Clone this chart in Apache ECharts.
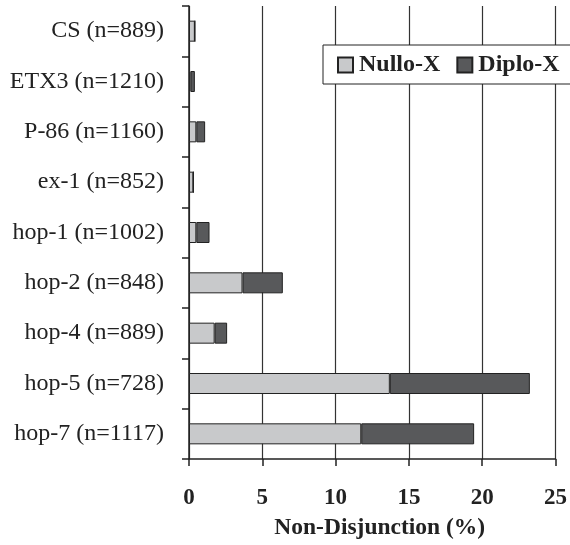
<!DOCTYPE html>
<html><head><meta charset="utf-8">
<script src="https://cdn.jsdelivr.net/npm/echarts@6/dist/echarts.min.js"></script>
<style>html,body{margin:0;padding:0;background:#fff}#c{width:570px;height:545px}</style>
</head><body><div id="c"></div>
<script>
const categories = ['CS (n=889)','ETX3 (n=1210)','P-86 (n=1160)','ex-1 (n=852)','hop-1 (n=1002)','hop-2 (n=848)','hop-4 (n=889)','hop-5 (n=728)','hop-7 (n=1117)'];
const nulloX = [0.4, 0.1, 0.5, 0.3, 0.5, 3.65, 1.75, 13.7, 11.75];
const diploX = [0, 0.3, 0.6, 0, 0.9, 2.75, 0.85, 9.55, 7.7];
const xTicks = [0, 5, 10, 15, 20, 25];

const font = 'Liberation Serif';
const chart = echarts.init(document.getElementById('c'));
chart.setOption({
  animation: false,
  textStyle: {fontFamily: font, color: '#222'},
  grid: {left: 189, right: 13, top: 6, bottom: 82, containLabel: false},
  legend: {
    left: 323, top: 45, width: 250, orient: 'horizontal',
    padding: [8, 20, 7, 14],
    itemWidth: 15, itemHeight: 15, itemGap: 16,
    borderColor: '#222', borderWidth: 1, backgroundColor: '#fff',
    textStyle: {fontFamily: font, fontWeight: 'bold', fontSize: 24, color: '#222', padding: [0,0,0,1]},
    icon: 'rect',
    data: ['Nullo-X', 'Diplo-X']
  },
  xAxis: {
    type: 'value', min: xTicks[0], max: xTicks[xTicks.length-1], interval: 5,
    name: 'Non-Disjunction (%)', nameLocation: 'middle', nameGap: 57,
    nameTextStyle: {fontFamily: font, fontWeight: 'bold', fontSize: 23.5, color: '#222', padding: [0,0,0,15]},
    axisLine: {show: true, lineStyle: {color: '#222', width: 1.5}},
    axisTick: {show: true, length: 7, lineStyle: {color: '#222', width: 1.5}},
    axisLabel: {fontFamily: font, fontWeight: 'bold', fontSize: 23, color: '#222', margin: 28},
    splitLine: {show: true, lineStyle: {color: '#333', width: 1.2}}
  },
  yAxis: {
    type: 'category', data: categories, inverse: true,
    axisLine: {show: true, lineStyle: {color: '#222', width: 1.5}},
    axisTick: {show: true, length: 7, lineStyle: {color: '#222', width: 1.5}},
    axisLabel: {fontFamily: font, fontSize: 24, color: '#222', margin: 25}
  },
  series: [
    {name: 'Nullo-X', type: 'bar', stack: 'nd', data: nulloX, barWidth: 21,
     itemStyle: {color: '#c8c9cb', borderColor: '#222', borderWidth: 1}},
    {name: 'Diplo-X', type: 'bar', stack: 'nd', data: diploX, barWidth: 21,
     itemStyle: {color: '#58595b', borderColor: '#222', borderWidth: 1}}
  ]
});
</script></body></html>
